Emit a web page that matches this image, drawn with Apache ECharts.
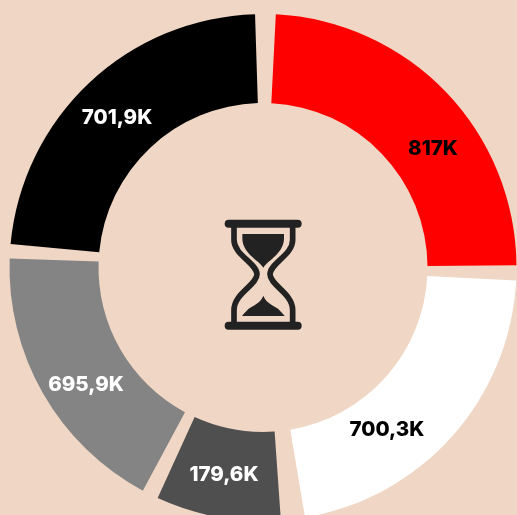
<!DOCTYPE html>
<html>
<head>
<meta charset="utf-8">
<style>
  html, body { margin: 0; padding: 0; background: #f0d6c4; }
  #chart { width: 517px; height: 515px; }
</style>
</head>
<body>
<div id="chart"></div>
<script src="https://cdn.jsdelivr.net/npm/echarts@6/dist/echarts.min.js"></script>
<script>
// printed labels, clockwise from the top
const sliceLabels = ['817K', '700,3K', '179,6K', '695,9K', '701,9K']
// the arcs in the picture are not proportional to the printed numbers,
// so arc sizes and the uneven gaps after them (degrees) are read off the picture
const arcSizes = [86.6, 77.5, 28.6, 63.75, 82.9]
const gapSizes = [3.46, 5.5, 3.75, 3.25, 4.7]
const sliceColors = ['#ff0000', '#ffffff', '#4f4f4f', '#848484', '#000000']
const labelColors = ['#000000', '#000000', '#ffffff', '#ffffff', '#ffffff']
const labelCenters = [[433, 149], [387, 430], [224, 475], [86, 385], [117, 118]]

// hourglass shapes, numbers are in 3x crop units
echarts.graphic.registerShape('hourglassFrame', echarts.graphic.extendPath(
  'M72 60 V105 C72 150 141 175 141 208 C141 240 72 265 72 315 V360 M248 60 V105 C248 150 180 175 180 208 C180 240 248 265 248 315 V360', {}))
echarts.graphic.registerShape('hourglassTop', echarts.graphic.extendPath(
  'M97 87 H222 V100 C222 145 175 165 160 188 C145 165 97 145 97 100 Z', {}))
echarts.graphic.registerShape('hourglassBottom', echarts.graphic.extendPath(
  'M160 272 C168 295 190 300 205 312 C212 320 220 328 224 333 H96 C100 328 108 320 115 312 C130 300 152 295 160 272 Z', {}))

// every slice is followed by a see-through spacer slice
const pieData = arcSizes.flatMap((value, i) => [
  {
    value,
    name: sliceLabels[i],
    itemStyle: { color: sliceColors[i] },
    label: { show: true, color: labelColors[i] },
  },
  {
    value: gapSizes[i],
    name: '',
    itemStyle: { color: 'transparent' },
    label: { show: false },
  },
])

const chart = echarts.init(document.getElementById('chart'), null, { renderer: 'canvas' })

chart.setOption({
  backgroundColor: '#f0d6c4',
  animation: false,
  series: [
    {
      type: 'pie',
      center: [263, 267.5],
      radius: [164.5, 253.5],
      startAngle: 87.1,
      avoidLabelOverlap: false,
      silent: true,
      label: {
        position: 'inside',
        fontFamily: 'Inter',
        fontSize: 20.5,
        fontWeight: 800,
        formatter: '{b}',
      },
      labelLine: { show: false },
      labelLayout: (p) => {
        const c = labelCenters[p.dataIndex / 2]
        return c ? { x: c[0], y: c[1], align: 'center', verticalAlign: 'middle' } : {}
      },
      data: pieData,
    },
  ],
  graphic: [
    {
      type: 'group',
      x: 210,
      y: 205,
      scaleX: 1 / 3,
      scaleY: 1 / 3,
      children: [
        { type: 'rect', shape: { x: 44, y: 44, width: 231, height: 24, r: 12 }, style: { fill: '#222222' } },
        { type: 'rect', shape: { x: 44, y: 350, width: 231, height: 24, r: 12 }, style: { fill: '#222222' } },
        { type: 'hourglassFrame', style: { fill: 'none', stroke: '#222222', lineWidth: 17 } },
        { type: 'hourglassTop', style: { fill: '#222222' } },
        { type: 'hourglassBottom', style: { fill: '#222222' } },
      ],
    },
  ],
})
</script>
</body>
</html>
